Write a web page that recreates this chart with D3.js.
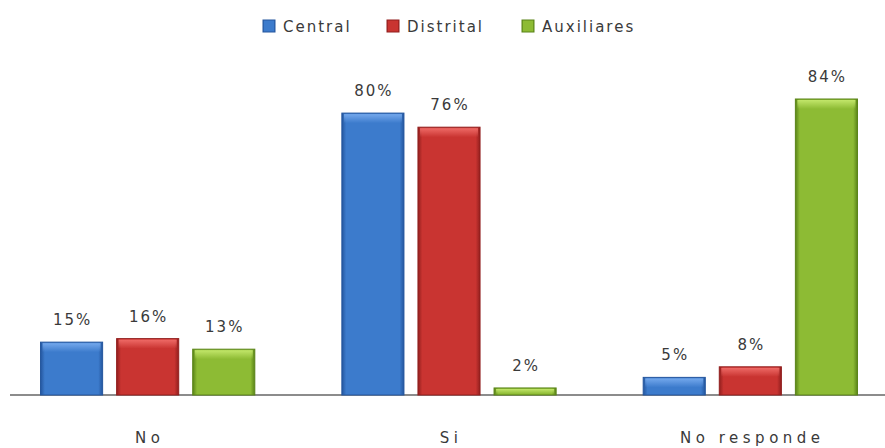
<!DOCTYPE html>
<html><head><meta charset="utf-8">
<script src="https://cdn.jsdelivr.net/npm/d3@7"></script>
<style>body{margin:0;background:#fff}svg{display:block}text{font-family:"DejaVu Sans",Verdana,sans-serif;fill:#3a3a3a}</style>
</head><body><svg id="c" width="885" height="448"></svg>
<script>
const categories = ["No", "Si", "No responde"];
const seriesNames = ["Central", "Distrital", "Auxiliares"];
const central = [15, 80, 5];
const distrital = [16, 76, 8];
const auxiliares = [13, 2, 84];
const valueLabels = [["15%","80%","5%"],["16%","76%","8%"],["13%","2%","84%"]];
const colors = {Central:["#24569e","#74a8ec","#3c7bcc"], Distrital:["#921f1e","#ee6a66","#c93431"], Auxiliares:["#5a8418","#c2e66a","#8dbb34"]};

const seriesVals = [central, distrital, auxiliares];
const svg = d3.select("#c");
const x0 = d3.scaleBand().domain(categories).range([-3, 901]).padding(0);
const x1 = d3.scaleBand().domain(seriesNames).range([0, x0.bandwidth()]).paddingInner(0.184).paddingOuter(0.572);
const y = d3.scaleLinear().domain([0, 84]).range([395, 99]);

const defs = svg.append("defs");
seriesNames.forEach((s,i)=>{
  const [dk, lt, md] = colors[s];
  const g = defs.append("linearGradient").attr("id","g"+i).attr("x1","0").attr("x2","1").attr("y1","0").attr("y2","0");
  g.append("stop").attr("offset","0").attr("stop-color",dk);
  g.append("stop").attr("offset","0.07").attr("stop-color",md);
  g.append("stop").attr("offset","0.93").attr("stop-color",md);
  g.append("stop").attr("offset","1").attr("stop-color",dk);
  const h = defs.append("linearGradient").attr("id","h"+i).attr("x1","0").attr("x2","0").attr("y1","0").attr("y2","1");
  h.append("stop").attr("offset","0").attr("stop-color",lt).attr("stop-opacity",1);
  h.append("stop").attr("offset","1").attr("stop-color",lt).attr("stop-opacity",0);
});

svg.append("line").attr("x1",10).attr("x2",885).attr("y1",y(0)).attr("y2",y(0)).attr("stroke","#8c8c8c").attr("stroke-width",2);

const groups = svg.selectAll("g.cat").data(categories).join("g").attr("transform",d=>`translate(${x0(d)},0)`);
seriesNames.forEach((s,i)=>{
  groups.each(function(cat,ci){
    const g = d3.select(this);
    const v = seriesVals[i][ci];
    const bx = x1(s), bw = x1.bandwidth(), by = y(v), bh = y(0)-y(v);
    g.append("rect").attr("x",bx).attr("y",by).attr("width",bw).attr("height",bh).attr("fill",`url(#g${i})`).attr("stroke",colors[s][0]).attr("stroke-width",1);
    g.append("rect").attr("x",bx+2).attr("y",by+1).attr("width",bw-4).attr("height",Math.min(9,bh-2)).attr("fill",`url(#h${i})`);
    g.append("text").attr("x",bx+bw/2+1).attr("y",by-17).attr("text-anchor","middle").style("font-size","15px").style("letter-spacing","2px").text(valueLabels[i][ci]);
  });
});

svg.selectAll("text.cat").data(categories).join("text").attr("class","cat")
  .attr("x",d=>x0(d)+x0.bandwidth()/2+2).attr("y",443).attr("text-anchor","middle")
  .style("font-size","15px").style("letter-spacing","4.5px").text(d=>d);

const legX = [263, 387, 522];
const leg = svg.selectAll("g.leg").data(seriesNames).join("g").attr("transform",(d,i)=>`translate(${legX[i]},20)`);
leg.append("rect").attr("width",12).attr("height",12).attr("fill",(d,i)=>`url(#g${i})`).attr("stroke",d=>colors[d][0]);
leg.append("text").attr("x",20).attr("y",12).style("font-size","15px").style("letter-spacing","2px").text(d=>d);
</script></body></html>
